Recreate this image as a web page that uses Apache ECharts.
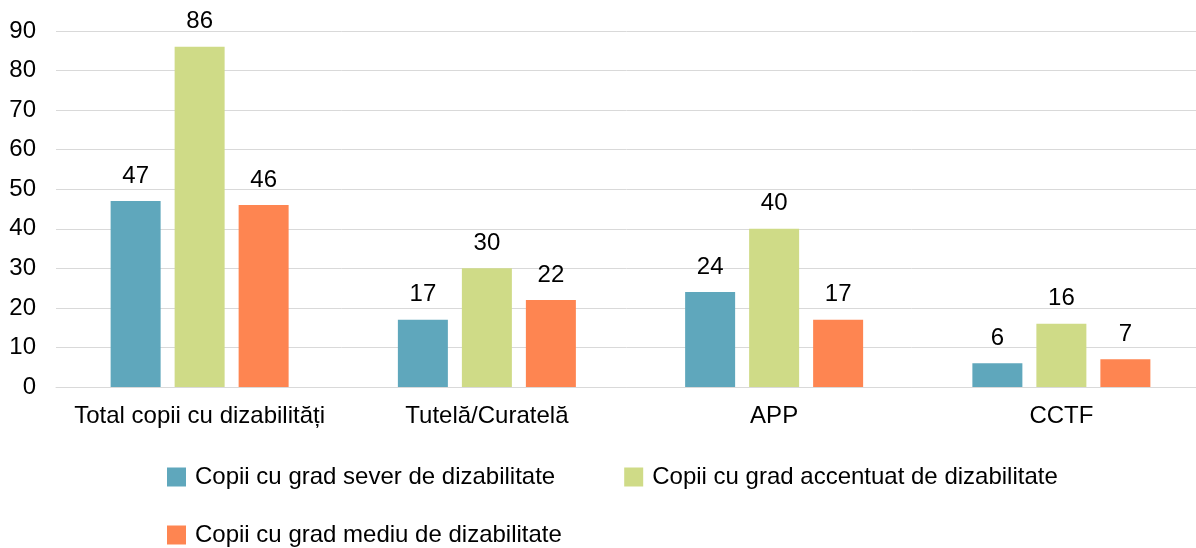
<!DOCTYPE html>
<html><head><meta charset="utf-8">
<script src="https://cdn.jsdelivr.net/npm/echarts@6/dist/echarts.min.js"></script>
<style>html,body{margin:0;padding:0;background:#fff}#c{width:1196px;height:548px}</style>
</head><body><div id="c"></div>
<script>
const categories = ['Total copii cu dizabilități', 'Tutelă/Curatelă', 'APP', 'CCTF'];
const seriesNames = ['Copii cu grad sever de dizabilitate', 'Copii cu grad accentuat de dizabilitate', 'Copii cu grad mediu de dizabilitate'];
const severVals = [47, 17, 24, 6];
const accentuatVals = [86, 30, 40, 16];
const mediuVals = [46, 22, 17, 7];
const colors = ['#5FA7BC', '#CFDB87', '#FE8551'];
const font = 'Liberation Sans, Arial, sans-serif';

const chart = echarts.init(document.getElementById('c'), null, {renderer: 'canvas'});
const mk = (name, data, color) => ({
  name, type: 'bar', data, barWidth: 50, barGap: '28%',
  itemStyle: {color},
  label: {show: true, position: 'top', distance: 13, color: '#000', fontSize: 24, fontFamily: font}
});
const legendText = {fontSize: 24, color: '#000', fontFamily: font, padding: [14, 0, 0, 4]};
chart.setOption({
  animation: false,
  textStyle: {fontFamily: font},
  grid: {left: 56, width: 1149, top: 31, bottom: 161, containLabel: false, outerBoundsMode: 'none'},
  legend: [
    {data: [seriesNames[0], seriesNames[1]], left: 167, top: 465, padding: 0, itemWidth: 19, itemHeight: 19, itemGap: 69,
     icon: 'rect', textStyle: legendText},
    {data: [seriesNames[2]], left: 167, top: 523, padding: 0, itemWidth: 19, itemHeight: 19,
     icon: 'rect', textStyle: legendText}
  ],
  xAxis: {
    type: 'category', data: categories,
    axisLine: {lineStyle: {color: '#D9D9D9', width: 1}},
    axisTick: {show: false},
    axisLabel: {color: '#000', fontSize: 24, margin: 17, fontFamily: font, interval: 0}
  },
  yAxis: {
    type: 'value', min: 0, max: 90, interval: 10,
    axisLine: {show: false}, axisTick: {show: false},
    splitLine: {lineStyle: {color: '#D9D9D9', width: 1}},
    axisLabel: {color: '#000', fontSize: 24, margin: 20, fontFamily: font}
  },
  series: [
    mk(seriesNames[0], severVals, colors[0]),
    mk(seriesNames[1], accentuatVals, colors[1]),
    mk(seriesNames[2], mediuVals, colors[2])
  ]
});
</script></body></html>
